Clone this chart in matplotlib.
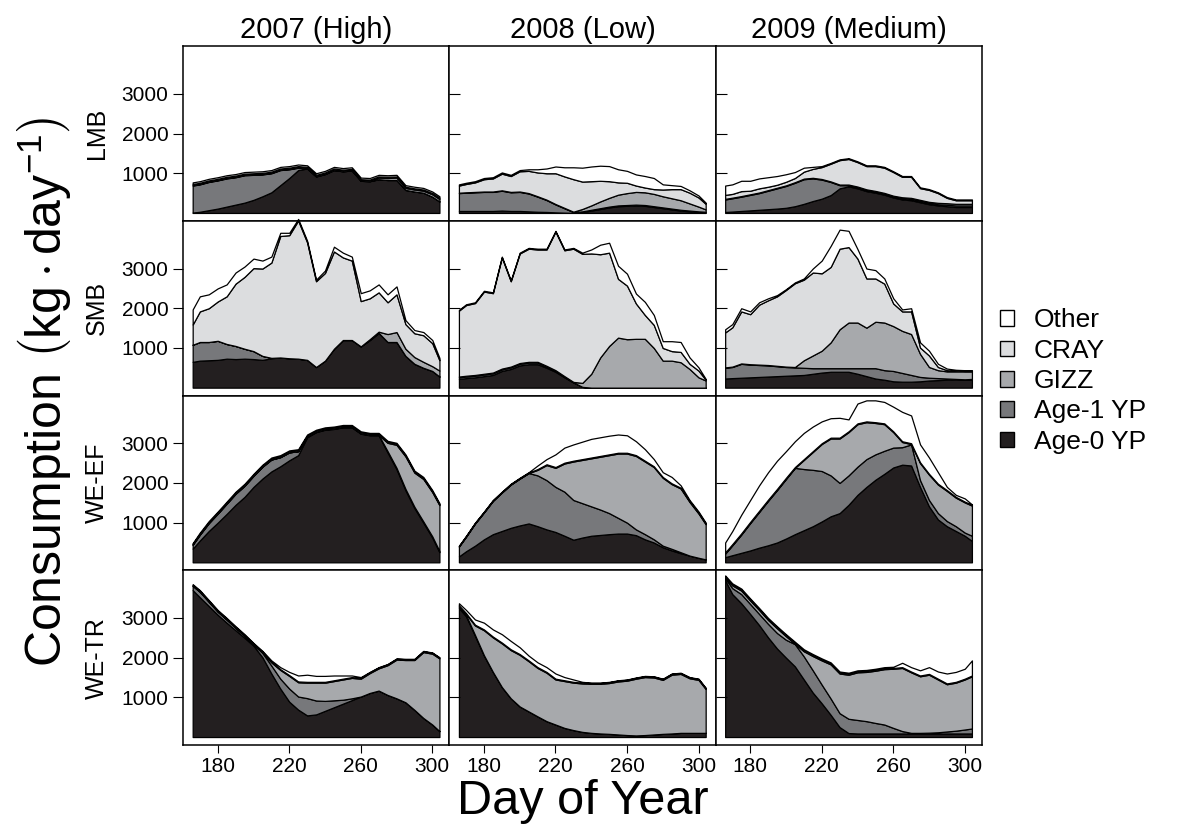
import matplotlib
matplotlib.use('Agg')
import matplotlib.pyplot as plt
from matplotlib.patches import Patch

plt.rcParams['font.family'] = ['Liberation Sans', 'DejaVu Sans']
plt.rcParams['mathtext.fontset'] = 'custom'
plt.rcParams['mathtext.rm'] = 'Liberation Sans'
plt.rcParams['mathtext.it'] = 'Liberation Sans:italic'

# day of year sampled for every panel
DAYS = [166, 170, 175, 180, 185, 190, 195, 200, 205, 210, 215, 220, 225, 230, 235,
        240, 245, 250, 255, 260, 265, 270, 275, 280, 285, 290, 295, 300, 304]

COLUMNS = ['2007 (High)', '2008 (Low)', '2009 (Medium)']
ROWS = ['LMB', 'SMB', 'WE-EF', 'WE-TR']
PREY = ['Age-0 YP', 'Age-1 YP', 'GIZZ', 'CRAY', 'Other']
PREY_COLORS = ['#231f20', '#77787b', '#a7a9ac', '#dcdddf', '#ffffff']

# ---- LMB ----
lmb_2007_age0 = [10, 30, 70, 110, 160, 210, 260, 330, 420, 520, 700, 880, 1080, 1120, 920, 980, 1080, 1050, 1070, 810, 800, 850, 830, 830, 580, 540, 510, 410, 290]
lmb_2007_age1 = [680, 690, 710, 710, 710, 690, 690, 630, 550, 480, 380, 220, 60, 0, 0, 0, 0, 0, 0, 0, 0, 0, 0, 0, 0, 0, 0, 0, 0]
lmb_2007_gizz = [10, 10, 10, 10, 10, 10, 10, 10, 10, 10, 10, 10, 10, 10, 10, 10, 10, 10, 10, 10, 10, 40, 50, 60, 50, 50, 50, 60, 60]
lmb_2007_cray = [30, 30, 30, 30, 30, 30, 30, 30, 30, 30, 30, 30, 30, 30, 30, 30, 30, 30, 30, 30, 30, 30, 30, 30, 30, 30, 30, 30, 30]
lmb_2007_other = [40, 40, 40, 40, 40, 40, 40, 40, 40, 40, 40, 40, 40, 40, 40, 40, 40, 40, 40, 40, 40, 40, 40, 40, 40, 40, 40, 40, 40]

lmb_2008_age0 = [50, 50, 50, 50, 50, 60, 50, 50, 40, 30, 25, 15, 8, 2, 20, 60, 100, 140, 170, 180, 190, 180, 150, 120, 90, 60, 40, 20, 10]
lmb_2008_age1 = [450, 460, 470, 480, 480, 500, 470, 480, 450, 380, 300, 200, 110, 20, 20, 20, 20, 20, 20, 20, 20, 20, 20, 20, 20, 20, 20, 20, 20]
lmb_2008_gizz = [10, 10, 10, 10, 10, 10, 10, 10, 10, 10, 10, 10, 10, 10, 60, 110, 170, 220, 270, 300, 320, 320, 310, 280, 260, 240, 180, 120, 60]
lmb_2008_cray = [180, 210, 240, 310, 330, 420, 400, 510, 560, 600, 665, 775, 792, 818, 690, 610, 520, 420, 310, 260, 160, 120, 120, 170, 230, 280, 270, 230, 140]
lmb_2008_other = [30, 30, 30, 30, 30, 30, 30, 30, 40, 80, 120, 170, 230, 300, 350, 370, 380, 380, 330, 300, 280, 290, 280, 130, 100, 80, 60, 50, 30]

lmb_2009_age0 = [25, 35, 50, 65, 80, 95, 110, 130, 170, 230, 300, 360, 450, 620, 670, 620, 550, 510, 460, 390, 340, 320, 270, 220, 190, 170, 150, 150, 150]
lmb_2009_age1 = [315, 335, 360, 390, 420, 465, 510, 550, 590, 620, 570, 480, 330, 80, 30, 30, 30, 30, 30, 30, 30, 30, 30, 30, 30, 35, 40, 40, 40]
lmb_2009_gizz = [15, 15, 15, 15, 15, 15, 15, 15, 15, 15, 15, 15, 15, 15, 15, 15, 15, 15, 15, 15, 25, 30, 30, 30, 35, 40, 40, 40, 40]
lmb_2009_cray = [100, 95, 125, 90, 105, 85, 75, 90, 105, 175, 225, 300, 445, 615, 645, 615, 585, 625, 635, 595, 515, 530, 295, 300, 245, 135, 90, 90, 90]
lmb_2009_other = [235, 240, 260, 250, 250, 240, 220, 190, 150, 100, 50, 25, 20, 20, 20, 20, 20, 20, 20, 20, 20, 20, 20, 20, 20, 20, 20, 20, 20]

# ---- SMB ----
smb_2007_age0 = [650, 680, 690, 700, 730, 720, 730, 720, 700, 740, 760, 740, 730, 700, 520, 680, 980, 1200, 1200, 1040, 1200, 1380, 1150, 1150, 800, 600, 500, 420, 280]
smb_2007_age1 = [430, 470, 460, 480, 370, 330, 250, 200, 100, 10, 0, 0, 0, 0, 0, 0, 0, 0, 0, 0, 0, 0, 0, 0, 0, 0, 0, 0, 0]
smb_2007_gizz = [0, 0, 0, 0, 0, 0, 0, 0, 0, 0, 0, 0, 0, 0, 0, 0, 0, 0, 0, 0, 20, 30, 200, 250, 180, 170, 150, 120, 150]
smb_2007_cray = [510, 770, 850, 990, 1200, 1570, 1810, 2090, 2200, 2400, 3060, 3100, 3480, 2960, 2160, 2210, 2450, 2080, 2000, 1140, 1030, 990, 800, 950, 620, 600, 670, 580, 260]
smb_2007_other = [380, 380, 350, 330, 300, 280, 260, 240, 200, 150, 80, 60, 40, 40, 40, 60, 120, 120, 100, 200, 200, 200, 200, 200, 100, 80, 80, 80, 60]

smb_2008_age0 = [220, 240, 260, 290, 320, 420, 470, 560, 590, 590, 500, 400, 260, 130, 20, 0, 0, 0, 0, 0, 0, 0, 0, 0, 0, 0, 0, 0, 0]
smb_2008_age1 = [40, 40, 40, 40, 40, 40, 40, 40, 40, 40, 30, 20, 15, 5, 0, 0, 0, 0, 0, 0, 0, 0, 0, 0, 0, 0, 0, 0, 0]
smb_2008_gizz = [20, 20, 20, 20, 20, 20, 20, 20, 20, 20, 20, 20, 15, 10, 100, 350, 760, 1050, 1260, 1220, 1230, 1230, 1000, 680, 680, 640, 470, 260, 180]
smb_2008_cray = [1660, 1780, 1810, 2070, 2000, 2800, 2150, 2760, 2850, 2830, 2930, 3490, 3170, 3355, 3250, 3030, 2600, 2350, 1480, 1350, 890, 600, 580, 320, 240, 260, 130, 170, 20]
smb_2008_other = [20, 20, 20, 20, 20, 20, 20, 20, 20, 20, 20, 20, 20, 20, 30, 100, 240, 250, 330, 300, 250, 330, 250, 170, 250, 250, 160, 80, 20]

smb_2009_age0 = [230, 240, 250, 260, 270, 280, 290, 300, 310, 320, 350, 380, 400, 400, 400, 350, 290, 230, 200, 160, 150, 150, 160, 180, 190, 200, 210, 200, 200]
smb_2009_age1 = [270, 280, 350, 320, 300, 280, 250, 220, 200, 180, 140, 110, 90, 90, 90, 140, 200, 260, 240, 260, 220, 170, 110, 70, 50, 30, 10, 10, 20]
smb_2009_gizz = [10, 10, 10, 10, 10, 10, 10, 10, 10, 190, 320, 440, 650, 980, 1150, 1150, 1020, 1170, 1200, 1130, 1060, 1030, 580, 270, 200, 180, 190, 200, 190]
smb_2009_cray = [880, 990, 1310, 1260, 1510, 1630, 1750, 1930, 2110, 2030, 2090, 1950, 1900, 2030, 1900, 1610, 1240, 1090, 980, 570, 490, 570, 160, 290, 80, 30, 20, 10, 10]
smb_2009_other = [80, 80, 80, 70, 60, 50, 30, 20, 20, 30, 100, 320, 530, 480, 410, 240, 250, 210, 130, 130, 50, 80, 130, 120, 80, 40, 20, 20, 20]

# ---- WE-EF ----
weef_2007_age0 = [345, 550, 790, 1000, 1220, 1450, 1650, 1900, 2110, 2290, 2420, 2570, 2700, 3150, 3280, 3340, 3360, 3400, 3400, 3240, 3200, 3200, 2770, 2350, 1820, 1370, 1000, 625, 255]
weef_2007_age1 = [100, 150, 200, 230, 260, 280, 280, 280, 300, 300, 230, 200, 100, 20, 10, 10, 10, 10, 10, 10, 10, 10, 30, 30, 30, 30, 30, 30, 30]
weef_2007_gizz = [0, 0, 0, 0, 0, 0, 0, 0, 0, 0, 0, 0, 0, 0, 0, 0, 0, 0, 0, 0, 0, 0, 210, 580, 820, 860, 1070, 1115, 1155]
weef_2007_cray = [20, 20, 20, 20, 20, 20, 20, 20, 20, 20, 20, 20, 20, 20, 20, 20, 20, 20, 20, 20, 20, 20, 20, 20, 20, 20, 20, 20, 20]
weef_2007_other = [20, 30, 30, 30, 30, 30, 30, 30, 30, 30, 30, 30, 30, 30, 30, 30, 30, 30, 30, 30, 30, 30, 30, 30, 30, 30, 30, 30, 30]

weef_2008_age0 = [150, 280, 420, 580, 710, 790, 870, 930, 980, 910, 830, 765, 670, 570, 625, 670, 690, 710, 725, 725, 685, 580, 500, 380, 300, 230, 170, 115, 75]
weef_2008_age1 = [250, 370, 560, 680, 840, 970, 1090, 1180, 1270, 1280, 1240, 1135, 1110, 1000, 865, 740, 640, 530, 395, 275, 145, 130, 80, 40, 40, 25, 0, 0, 0]
weef_2008_gizz = [0, 0, 0, 0, 0, 0, 0, 0, 0, 140, 380, 480, 710, 970, 1090, 1210, 1330, 1460, 1620, 1740, 1850, 1830, 1820, 1710, 1630, 1605, 1350, 1115, 885]
weef_2008_cray = [10, 10, 10, 10, 10, 10, 10, 10, 10, 20, 20, 20, 20, 20, 20, 20, 20, 20, 20, 20, 20, 20, 20, 20, 20, 20, 20, 20, 20]
weef_2008_other = [10, 10, 10, 10, 10, 10, 10, 10, 10, 90, 130, 320, 380, 410, 440, 470, 470, 470, 460, 440, 350, 290, 180, 120, 160, 60, 30, 30, 20]

weef_2009_age0 = [130, 180, 240, 300, 370, 430, 500, 600, 710, 810, 910, 1030, 1160, 1240, 1450, 1700, 1900, 2080, 2230, 2390, 2460, 2440, 1900, 1410, 1080, 910, 790, 670, 540]
weef_2009_age1 = [90, 250, 460, 690, 900, 1120, 1320, 1500, 1670, 1540, 1420, 1270, 1030, 760, 740, 710, 700, 640, 580, 500, 440, 530, 170, 160, 160, 130, 120, 80, 130]
weef_2009_gizz = [10, 10, 10, 10, 10, 10, 10, 10, 0, 230, 450, 680, 930, 1120, 1090, 1070, 930, 790, 670, 390, 130, 10, 430, 640, 720, 760, 720, 760, 760]
weef_2009_cray = [20, 20, 20, 20, 20, 20, 20, 20, 20, 20, 20, 20, 20, 20, 20, 20, 20, 20, 20, 20, 20, 20, 20, 20, 20, 20, 20, 20, 20]
weef_2009_other = [250, 330, 470, 550, 640, 690, 710, 670, 650, 660, 620, 550, 490, 500, 300, 500, 530, 550, 540, 620, 740, 700, 450, 410, 290, 80, 50, 80, 10]

# ---- WE-TR ----
wetr_2007_age0 = [3700, 3520, 3300, 3080, 2880, 2690, 2500, 2300, 2010, 1600, 1220, 890, 690, 545, 570, 660, 750, 840, 930, 1020, 1110, 1170, 1060, 975, 875, 685, 480, 315, 150]
wetr_2007_age1 = [110, 140, 110, 80, 80, 60, 50, 30, 110, 200, 250, 330, 330, 435, 350, 250, 175, 100, 45, 0, 0, 0, 0, 0, 0, 0, 0, 0, 0]
wetr_2007_gizz = [0, 0, 0, 0, 0, 0, 0, 0, 10, 80, 220, 320, 360, 390, 450, 460, 485, 510, 515, 450, 500, 560, 750, 975, 1065, 1255, 1660, 1785, 1830]
wetr_2007_cray = [20, 20, 20, 20, 20, 20, 20, 20, 20, 20, 20, 20, 20, 20, 20, 20, 20, 20, 20, 20, 20, 20, 20, 20, 20, 20, 20, 20, 20]
wetr_2007_other = [20, 20, 20, 20, 20, 20, 20, 20, 20, 30, 50, 80, 150, 180, 150, 150, 120, 80, 40, 20, 10, 10, 10, 10, 10, 10, 10, 10, 10]

wetr_2008_age0 = [3250, 3040, 2550, 2050, 1640, 1260, 975, 770, 645, 520, 400, 315, 230, 175, 130, 105, 90, 80, 65, 50, 40, 50, 65, 80, 90, 105, 105, 105, 105]
wetr_2008_age1 = [30, 30, 20, 10, 0, 0, 0, 0, 0, 0, 0, 0, 0, 0, 0, 0, 0, 0, 0, 0, 0, 0, 0, 0, 0, 0, 0, 0, 0]
wetr_2008_gizz = [20, 30, 240, 630, 870, 1100, 1215, 1300, 1265, 1220, 1220, 1135, 1180, 1195, 1220, 1235, 1250, 1280, 1335, 1370, 1430, 1460, 1435, 1360, 1480, 1485, 1375, 1335, 1105]
wetr_2008_cray = [20, 20, 20, 20, 20, 20, 20, 20, 20, 20, 20, 20, 20, 20, 20, 20, 20, 20, 20, 20, 20, 20, 20, 20, 20, 20, 20, 20, 20]
wetr_2008_other = [50, 80, 130, 170, 180, 210, 210, 170, 120, 120, 120, 130, 80, 60, 20, 10, 10, 10, 10, 10, 10, 10, 10, 10, 10, 10, 10, 10, 10]

wetr_2009_age0 = [3950, 3600, 3370, 3100, 2820, 2510, 2230, 2000, 1780, 1450, 1120, 850, 560, 250, 100, 90, 90, 90, 90, 90, 90, 90, 90, 90, 90, 90, 90, 90, 90]
wetr_2009_age1 = [50, 150, 230, 250, 280, 340, 390, 450, 560, 580, 560, 470, 410, 350, 360, 340, 310, 265, 225, 140, 60, 15, 15, 20, 30, 50, 70, 100, 125]
wetr_2009_gizz = [20, 70, 90, 90, 100, 100, 120, 90, 10, 130, 360, 610, 860, 1000, 1110, 1200, 1240, 1315, 1395, 1490, 1590, 1525, 1425, 1460, 1330, 1190, 1210, 1260, 1315]
wetr_2009_cray = [20, 20, 20, 20, 20, 20, 20, 20, 20, 20, 20, 20, 20, 20, 20, 20, 20, 20, 20, 20, 20, 20, 20, 20, 20, 20, 20, 20, 20]
wetr_2009_other = [30, 30, 30, 30, 30, 30, 30, 30, 30, 30, 30, 30, 30, 30, 30, 30, 30, 30, 30, 30, 110, 110, 130, 170, 180, 250, 250, 250, 380]

PANELS = [
    [[lmb_2007_age0, lmb_2007_age1, lmb_2007_gizz, lmb_2007_cray, lmb_2007_other],
     [lmb_2008_age0, lmb_2008_age1, lmb_2008_gizz, lmb_2008_cray, lmb_2008_other],
     [lmb_2009_age0, lmb_2009_age1, lmb_2009_gizz, lmb_2009_cray, lmb_2009_other]],
    [[smb_2007_age0, smb_2007_age1, smb_2007_gizz, smb_2007_cray, smb_2007_other],
     [smb_2008_age0, smb_2008_age1, smb_2008_gizz, smb_2008_cray, smb_2008_other],
     [smb_2009_age0, smb_2009_age1, smb_2009_gizz, smb_2009_cray, smb_2009_other]],
    [[weef_2007_age0, weef_2007_age1, weef_2007_gizz, weef_2007_cray, weef_2007_other],
     [weef_2008_age0, weef_2008_age1, weef_2008_gizz, weef_2008_cray, weef_2008_other],
     [weef_2009_age0, weef_2009_age1, weef_2009_gizz, weef_2009_cray, weef_2009_other]],
    [[wetr_2007_age0, wetr_2007_age1, wetr_2007_gizz, wetr_2007_cray, wetr_2007_other],
     [wetr_2008_age0, wetr_2008_age1, wetr_2008_gizz, wetr_2008_cray, wetr_2008_other],
     [wetr_2009_age0, wetr_2009_age1, wetr_2009_gizz, wetr_2009_cray, wetr_2009_other]],
]


def draw_panel(ax, layers, row, col):
    polys = ax.stackplot(DAYS, *layers, colors=PREY_COLORS,
                         edgecolor='black', linewidth=0.9)
    for p in polys:
        p.set_clip_on(False)

    ax.set_xlim(160.6, 309.5)
    ax.set_ylim(-200, 4200)
    ax.set_yticks([1000, 2000, 3000])
    ax.set_xticks([180, 220, 260, 300])
    for s in ax.spines.values():
        s.set_linewidth(1.1)

    if col == 0:
        ax.tick_params(axis='y', direction='out', length=7, labelsize=15)
        ax.set_ylabel(ROWS[row], fontsize=18, labelpad=9)
    else:
        ax.tick_params(axis='y', direction='in', length=8, labelleft=False)

    if row == 3:
        ax.tick_params(axis='x', direction='out', length=6, pad=2.5, labelsize=15)
    else:
        ax.tick_params(axis='x', bottom=False, labelbottom=False)

    if row == 0:
        ax.set_title(COLUMNS[col], fontsize=21, pad=6)


def main():
    fig = plt.figure(figsize=(11.9, 8.25), dpi=100)
    gs = fig.add_gridspec(4, 3, left=0.1538, right=0.825, top=0.944,
                          bottom=0.097, hspace=0, wspace=0)

    for row in range(4):
        for col in range(3):
            ax = fig.add_subplot(gs[row, col])
            draw_panel(ax, PANELS[row][col], row, col)

    fig.text(0.037, 0.525, r'Consumption $\left(\mathrm{kg \cdot day^{-1}}\right)$',
             rotation=90, fontsize=36, ha='center', va='center')
    fig.text(0.49, 0.0135, 'Day of Year', fontsize=35, ha='center', va='baseline')

    handles = [Patch(facecolor=c, edgecolor='black', linewidth=1.0)
               for c in PREY_COLORS[::-1]]
    fig.legend(handles, PREY[::-1], loc='center left', bbox_to_anchor=(0.82, 0.538),
               frameon=False, fontsize=19, handlelength=0.55, handleheight=0.55,
               handletextpad=0.75, labelspacing=0.24)

    fig.savefig('out.png', dpi=100)


if __name__ == "__main__":
    main()
